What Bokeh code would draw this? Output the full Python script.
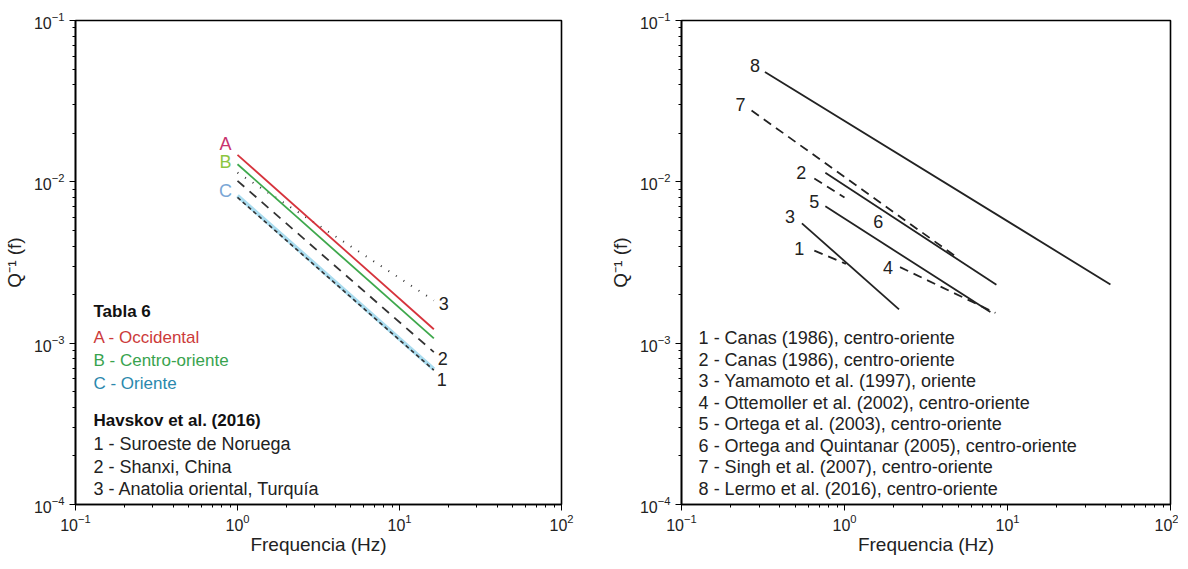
from bokeh.plotting import figure
from bokeh.layouts import row
from bokeh.models import Label, Range1d, ColumnDataSource
from bokeh.core.properties import value
from bokeh.embed import file_html
from bokeh.resources import INLINE

# ---------------- data ----------------
# Left panel: Q^-1(f) segments, Tabla 6 (A, B, C) and Havskov et al. (2016) (1, 2, 3)
left_series = ["A", "B", "C", "1", "2", "3"]
left_f_start = [1.0, 1.0, 1.0, 1.0, 1.0, 1.0]
left_f_end = [16.3, 16.3, 16.3, 16.3, 16.3, 16.3]
left_q_start = [0.0147, 0.01285, 0.0082, 0.0080, 0.01014, 0.0114]
left_q_end = [0.00122, 0.00107, 0.00069, 0.00068, 0.00088, 0.00184]

left_legend_title1 = "Tabla 6"
left_legend_items1 = ["A - Occidental", "B - Centro-oriente", "C - Oriente"]
left_legend_title2 = "Havskov et al. (2016)"
left_legend_items2 = ["1 - Suroeste de Noruega", "2 - Shanxi, China",
                      "3 - Anatolia oriental, Turquía"]

# Right panel: published Q^-1(f) relations
right_series = ["1", "2", "3", "4", "5", "6", "7", "8"]
right_f_start = [0.653, 0.653, 0.548, 2.19, 0.763, 0.763, 0.269, 0.325]
right_f_end = [1.02, 1.0, 2.16, 8.43, 7.85, 8.55, 5.0, 42.8]
right_q_start = [0.00375, 0.0105, 0.00553, 0.00296, 0.00705, 0.0114, 0.0277, 0.048]
right_q_end = [0.0031, 0.0080, 0.00162, 0.00154, 0.00156, 0.0023, 0.00335, 0.00231]
right_legend_items = [
    "1 - Canas (1986), centro-oriente",
    "2 - Canas (1986), centro-oriente",
    "3 - Yamamoto et al. (1997), oriente",
    "4 - Ottemoller et al. (2002), centro-oriente",
    "5 - Ortega et al. (2003), centro-oriente",
    "6 - Ortega and Quintanar (2005), centro-oriente",
    "7 - Singh et al. (2007), centro-oriente",
    "8 - Lermo et al. (2016), centro-oriente",
]

x_title = "Frequencia (Hz)"
y_title = "Q\u207b\u00b9 (f)"

# ---------------- styling ----------------
FONT = "Liberation Sans"
FH = 484  # frame height


def frac_pos(fx, fy):
    return 10 ** (-1 + 3 * fx), 10 ** (-1 - 3 * fy)


def shift(f, q, dx, dy, pxx, pxy):
    return f * 10 ** (dx / pxx), q * 10 ** (-dy / pxy)


def make_fig(fw, bl, br):
    p = figure(x_axis_type="log", y_axis_type="log",
               x_range=Range1d(0.1, 100), y_range=Range1d(1e-4, 1e-1),
               frame_width=fw, frame_height=FH,
               min_border_left=bl, min_border_right=br,
               min_border_top=20, min_border_bottom=49,
               output_backend="svg", toolbar_location=None)
    p.grid.visible = False
    p.outline_line_color = "black"
    p.outline_line_width = 1.6
    p.outline_line_alpha = 1.0
    p.background_fill_color = "white"
    p.border_fill_color = "white"
    for ax in (p.xaxis[0], p.yaxis[0]):
        ax.axis_line_width = 1.6
        ax.axis_line_color = "black"
        ax.major_tick_out = 6
        ax.major_tick_in = 0
        ax.minor_tick_out = 3
        ax.minor_tick_in = 0
        ax.major_label_text_font = FONT
        ax.major_label_text_font_size = "16px"
        ax.major_label_text_color = "#222222"
        ax.axis_label_text_font = FONT
        ax.axis_label_text_font_style = "normal"
        ax.axis_label_text_font_size = "19px"
        ax.axis_label_text_color = "#222222"
    p.xaxis.axis_label = x_title
    p.yaxis.axis_label = y_title
    p.xaxis.major_label_standoff = 3
    p.xaxis.axis_label_standoff = 0
    p.yaxis.axis_label_standoff = 6
    return p


# ---------------- left panel ----------------
FW1 = 486
p1 = make_fig(FW1, 73, 41)
pxx1, pxy1 = FW1 / 3.0, FH / 3.0

left_styles = {
    "A": dict(line_color="#d6333c", line_width=1.8),
    "B": dict(line_color="#3ea84c", line_width=1.8),
    "C": dict(line_color="#a9dcef", line_width=4),
    "1": dict(line_color="#333333", line_width=1.6, line_dash="4 3"),
    "2": dict(line_color="#333333", line_width=1.8, line_dash="9 7"),
    "3": dict(line_color="#333333", line_width=2, line_dash="1 8"),
}
for name in ["C", "1", "2", "3", "B", "A"]:
    i = left_series.index(name)
    p1.line([left_f_start[i], left_f_end[i]], [left_q_start[i], left_q_end[i]],
            **left_styles[name])

left_label_cfg = {  # (anchor, dx px, dy px, colour)
    "A": ("start", -12, -11, "#c8336e"),
    "B": ("start", -12, -2, "#8cc63f"),
    "C": ("start", -12, -5, "#7aa7d6"),
    "3": ("end", 10, 3, "#222222"),
    "2": ("end", 9, 6, "#222222"),
    "1": ("end", 8, 9, "#222222"),
}
lx, ly, lt, lc = [], [], [], []
for name, (anc, dx, dy, col) in left_label_cfg.items():
    i = left_series.index(name)
    f0 = left_f_start[i] if anc == "start" else left_f_end[i]
    q0 = left_q_start[i] if anc == "start" else left_q_end[i]
    x, y = shift(f0, q0, dx, dy, pxx1, pxy1)
    lx.append(x); ly.append(y); lt.append(name); lc.append(col)
p1.text(x="x", y="y", text="t", text_color="c",
        source=ColumnDataSource(dict(x=lx, y=ly, t=lt, c=lc)),
        text_align="center", text_baseline="middle",
        text_font=value(FONT), text_font_size="18px")

leg_x = 0.037
fx, fy = frac_pos(leg_x, 0.602)
p1.add_layout(Label(x=fx, y=fy, text=left_legend_title1, text_font=FONT,
                    text_font_size="17px", text_font_style="bold",
                    text_baseline="middle", text_color="#111111"))
for txt, yy, col in zip(left_legend_items1, [0.654, 0.702, 0.749],
                        ["#cc3a3a", "#38a34e", "#2a88ad"]):
    fx, fy = frac_pos(leg_x, yy)
    p1.add_layout(Label(x=fx, y=fy, text=txt, text_font=FONT,
                        text_font_size="17px", text_baseline="middle",
                        text_color=col))
fx, fy = frac_pos(leg_x, 0.827)
p1.add_layout(Label(x=fx, y=fy, text=left_legend_title2, text_font=FONT,
                    text_font_size="17px", text_font_style="bold",
                    text_baseline="middle", text_color="#111111"))
for txt, yy in zip(left_legend_items2, [0.876, 0.922, 0.969]):
    fx, fy = frac_pos(leg_x, yy)
    p1.add_layout(Label(x=fx, y=fy, text=txt, text_font=FONT,
                        text_font_size="18px", text_baseline="middle",
                        text_color="#222222"))

# ---------------- right panel ----------------
FW2 = 489
p2 = make_fig(FW2, 79, 8)
pxx2, pxy2 = FW2 / 3.0, FH / 3.0

dashed = {"1", "2", "4", "7"}
for i, name in enumerate(right_series):
    kw = dict(line_color="#222222", line_width=1.8)
    if name in dashed:
        kw["line_dash"] = "9 6"
    p2.line([right_f_start[i], right_f_end[i]], [right_q_start[i], right_q_end[i]], **kw)

right_label_off = {"1": (-15, -2), "2": (-13, -6), "3": (-12, -7), "4": (-12, 0),
                   "5": (-11, -5), "7": (-11, -6), "8": (-10, -6)}
rx, ry, rt = [], [], []
for name, (dx, dy) in right_label_off.items():
    i = right_series.index(name)
    x, y = shift(right_f_start[i], right_q_start[i], dx, dy, pxx2, pxy2)
    rx.append(x); ry.append(y); rt.append(name)
# label 6 sits below its line, part-way along it
i6 = right_series.index("6")
t6 = 0.31
f6 = right_f_start[i6] * (right_f_end[i6] / right_f_start[i6]) ** t6
q6 = right_q_start[i6] * (right_q_end[i6] / right_q_start[i6]) ** t6
x, y = shift(f6, q6, 0, 14, pxx2, pxy2)
rx.append(x); ry.append(y); rt.append("6")
p2.text(x="x", y="y", text="t", source=ColumnDataSource(dict(x=rx, y=ry, t=rt)),
        text_align="center", text_baseline="middle", text_color="#222222",
        text_font=value(FONT), text_font_size="18px")

for k, txt in enumerate(right_legend_items):
    fx, fy = frac_pos(0.035, 0.657 + k * 0.0443)
    p2.add_layout(Label(x=fx, y=fy, text=txt, text_font=FONT,
                        text_font_size="18px", text_baseline="middle",
                        text_color="#222222"))

layout = row(p1, p2)
open("out.html", "w").write(file_html(layout, INLINE))
